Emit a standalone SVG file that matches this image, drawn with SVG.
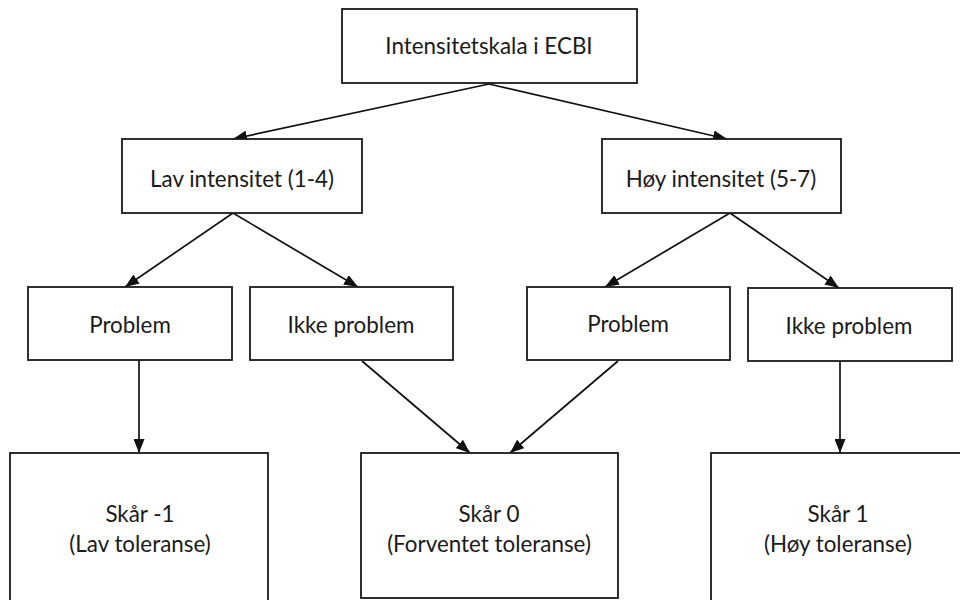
<svg xmlns="http://www.w3.org/2000/svg" width="960" height="600" viewBox="0 0 960 600">
<defs>
<style>
.box{fill:#fff;stroke:#1a1a1a;stroke-width:1.8}
.t{font-family:Lato,"Open Sans","Liberation Sans",sans-serif;font-size:22.4px;fill:#1a1a1a;text-anchor:middle}
.c{stroke:#111;stroke-width:1.7;fill:none;marker-end:url(#ah)}
</style>
<marker id="ah" viewBox="0 0 14 11" refX="14" refY="5.5" markerWidth="14" markerHeight="11" markerUnits="userSpaceOnUse" orient="auto">
<path d="M0,0 L14,5.5 L0,11 Z" fill="#111"/>
</marker>
</defs>
<rect width="960" height="600" fill="#fff"/>
<g id="connectors">
<line class="c" x1="489" y1="84" x2="233" y2="139"/>
<line class="c" x1="489" y1="84" x2="727" y2="139"/>
<line class="c" x1="233" y1="213" x2="125" y2="287"/>
<line class="c" x1="233" y1="213" x2="358" y2="287"/>
<line class="c" x1="730" y1="213" x2="605" y2="287"/>
<line class="c" x1="730" y1="213" x2="839" y2="288"/>
<line class="c" x1="139" y1="360" x2="139" y2="453"/>
<line class="c" x1="362" y1="361" x2="470" y2="453"/>
<line class="c" x1="618" y1="361" x2="510" y2="453"/>
<line class="c" x1="840" y1="361" x2="840" y2="453"/>
</g>
<g id="root">
<rect class="box" x="342" y="9" width="295" height="74"/>
<text class="t" x="489" y="54">Intensitetskala i ECBI</text>
</g>
<g id="lav">
<rect class="box" x="122" y="139" width="240" height="74"/>
<text class="t" x="242" y="187">Lav intensitet (1-4)</text>
</g>
<g id="hoy">
<rect class="box" x="602" y="139" width="239" height="74"/>
<text class="t" x="721" y="187">Høy intensitet (5-7)</text>
</g>
<g id="lav-problem">
<rect class="box" x="28" y="287" width="204" height="73"/>
<text class="t" x="130" y="333">Problem</text>
</g>
<g id="lav-ikke">
<rect class="box" x="250" y="287" width="203" height="73"/>
<text class="t" x="351" y="333">Ikke problem</text>
</g>
<g id="hoy-problem">
<rect class="box" x="527" y="287" width="203" height="73"/>
<text class="t" x="628" y="332">Problem</text>
</g>
<g id="hoy-ikke">
<rect class="box" x="748" y="288" width="204" height="73"/>
<text class="t" x="849" y="334">Ikke problem</text>
</g>
<g id="skar-minus1">
<rect class="box" x="10" y="453" width="258" height="160"/>
<text class="t" x="140" y="522">Skår -1</text>
<text class="t" x="140" y="552">(Lav toleranse)</text>
</g>
<g id="skar0">
<rect class="box" x="361" y="453" width="257" height="145"/>
<text class="t" x="489" y="522">Skår 0</text>
<text class="t" x="489" y="552">(Forventet toleranse)</text>
</g>
<g id="skar1">
<rect class="box" x="711" y="453" width="260" height="160"/>
<text class="t" x="838" y="522">Skår 1</text>
<text class="t" x="838" y="552">(Høy toleranse)</text>
</g>
</svg>
